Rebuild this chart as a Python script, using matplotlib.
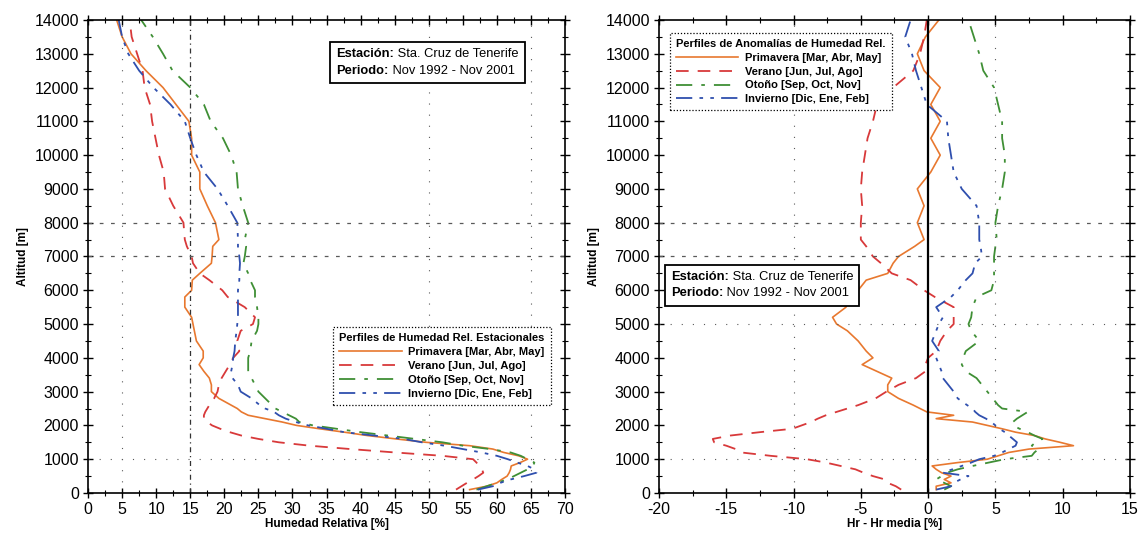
import matplotlib
matplotlib.use("Agg")
import matplotlib.pyplot as plt
from matplotlib.offsetbox import TextArea, HPacker, VPacker, AnchoredOffsetbox

plt.rcParams['font.family'] = ['Liberation Sans', 'DejaVu Sans']
plt.rcParams['axes.unicode_minus'] = False

# Altitude levels (m) shared by all profiles
altitude = [100, 200, 300, 400, 500, 600, 700, 800, 900, 1000, 1100, 1200, 1300, 1400,
            1500, 1600, 1700, 1800, 1900, 2000, 2100, 2200, 2300, 2400, 2500, 2600, 2800,
            3000, 3200, 3400, 3600, 3800, 4000, 4200, 4500, 4800, 5000, 5200, 5500, 5800,
            6000, 6300, 6500, 6800, 7000, 7300, 7500, 8000, 8500, 9000, 9500, 10000, 10500,
            11000, 11500, 12000, 12500, 13000, 13500, 14000]

# Seasonal relative humidity profiles (%)
hr_primavera = [56.0, 58.5, 60.0, 60.7, 61.5, 61.8, 62.0, 62.1, 63.4, 64.5, 63.2, 61.0, 59.4, 56.0,
                49.6, 45.2, 41.0, 37.6, 34.0, 30.6, 28.5, 26.0, 23.5, 22.5, 21.9, 21.0, 19.2,
                18.1, 18.1, 17.8, 17.0, 16.3, 16.9, 16.9, 15.9, 15.6, 15.4, 15.2, 14.2, 14.2,
                15.2, 15.3, 16.4, 18.1, 18.2, 18.3, 19.2, 18.7, 17.5, 16.4, 16.4, 15.2, 15.2,
                14.8, 12.9, 11.0, 8.5, 6.3, 5.0, 4.2]
hr_verano = [54.0, 54.8, 55.6, 56.5, 57.3, 58.0, 57.8, 57.4, 57.0, 56.5, 52.0, 45.0, 38.5, 32.5,
             28.0, 25.0, 22.5, 20.8, 19.4, 18.2, 17.5, 17.0, 17.0, 17.2, 17.5, 17.8, 18.5,
             19.0, 19.2, 19.6, 20.2, 20.8, 21.3, 22.2, 21.9, 22.4, 24.2, 24.5, 23.0, 20.5,
             19.7, 17.8, 16.4, 15.4, 15.2, 14.5, 14.2, 14.0, 12.5, 11.3, 11.1, 10.4, 9.9,
             9.4, 9.1, 8.3, 8.0, 7.2, 6.4, 6.1]
hr_otono = [57.0, 58.5, 60.0, 61.5, 62.5, 63.5, 64.5, 65.3, 65.5, 64.5, 63.5, 62.0, 59.0, 55.0,
            52.0, 48.0, 44.0, 40.0, 36.5, 33.0, 31.0, 30.5, 29.5, 28.5, 27.5, 27.0, 26.0,
            25.0, 24.5, 24.0, 23.5, 23.5, 23.5, 23.8, 24.0, 24.8, 25.0, 25.0, 24.8, 24.5,
            24.5, 23.8, 23.5, 22.8, 23.0, 23.2, 23.0, 23.5, 22.7, 22.0, 21.8, 21.0, 19.8,
            18.0, 17.0, 15.0, 12.4, 11.0, 9.5, 7.8]
hr_invierno = [57.2, 59.4, 60.5, 62.0, 64.0, 65.8, 65.5, 64.5, 63.0, 61.6, 60.0, 57.7, 55.0, 52.3,
               49.0, 46.3, 42.0, 37.6, 35.0, 32.3, 30.5, 29.0, 28.0, 27.3, 26.0, 25.2, 24.0,
               22.4, 22.0, 21.2, 21.0, 21.2, 21.3, 21.5, 21.6, 21.8, 21.9, 22.0, 22.0, 22.0,
               22.0, 22.2, 22.2, 22.3, 22.2, 22.0, 22.0, 21.9, 20.5, 19.0, 17.0, 15.9, 15.0,
               14.2, 12.1, 9.6, 7.5, 5.9, 5.0, 4.5]

# Seasonal anomalies with respect to the mean profile (%)
an_primavera = [0.6, 0.6, 1.7, 1.2, 1.7, 1.0, 0.6, 0.3, 2.2, 4.4, 5.2, 6.0, 7.5, 10.8,
                9.8, 8.7, 7.9, 6.5, 5.5, 4.4, 3.3, 0.6, 1.9, -0.1, -0.6, -1.1, -2.2,
                -3.0, -3.0, -2.7, -3.8, -4.9, -4.1, -4.6, -5.2, -6.0, -6.8, -7.1, -6.1, -6.0,
                -5.2, -4.6, -3.0, -2.6, -2.2, -1.0, -0.3, -0.8, -0.3, -0.8, 0.2, 0.9, 0.2,
                0.9, 0.2, 0.9, -0.3, -0.8, -0.2, 0.8]
an_verano = [-2.0, -2.4, -3.0, -3.2, -4.1, -4.8, -5.4, -6.5, -7.6, -9.0, -11.7, -13.9, -14.3, -15.0,
             -15.9, -16.0, -14.7, -12.5, -10.1, -9.4, -8.7, -8.2, -7.6, -6.8, -6.0, -5.2, -3.9,
             -3.1, -2.2, -0.9, -0.2, -0.2, 0.0, 0.6, 0.9, 1.4, 1.9, 1.9, 1.9, 0.5,
             -0.3, -1.3, -2.7, -3.5, -4.1, -4.6, -5.0, -5.0, -4.9, -5.0, -4.9, -4.7, -4.5,
             -4.1, -3.8, -2.6, -1.1, -0.6, -0.3, -0.1]
an_otono = [1.2, 1.7, 1.2, 0.6, 1.0, 1.4, 2.2, 3.3, 4.5, 5.7, 7.7, 7.9, 8.2, 7.7,
            8.0, 8.5, 7.9, 7.4, 6.8, 6.3, 6.3, 6.6, 7.0, 7.4, 5.5, 5.2, 4.8,
            4.4, 4.0, 3.6, 2.8, 2.5, 2.6, 2.8, 3.8, 3.2, 3.0, 3.2, 3.3, 3.6,
            4.7, 4.9, 4.9, 4.9, 4.9, 5.0, 5.1, 5.0, 5.2, 5.5, 5.7, 5.7, 5.5,
            5.5, 5.2, 4.9, 4.1, 3.8, 3.4, 3.0]
an_invierno = [0.6, 1.7, 1.9, 2.4, 3.0, 1.1, 1.8, 2.5, 3.2, 3.8, 4.9, 5.5, 6.0, 6.5,
               6.6, 6.3, 6.0, 5.7, 5.3, 5.0, 4.7, 4.3, 3.8, 3.5, 3.3, 2.9, 2.2,
               1.9, 1.5, 1.1, 1.0, 0.8, 0.6, 0.8, 0.3, 0.6, 0.8, 1.1, 0.6, 1.7,
               2.2, 2.8, 3.3, 3.5, 4.0, 3.9, 3.8, 3.8, 3.6, 2.5, 1.9, 1.7, 1.5,
               1.4, -0.1, -0.5, -0.9, -1.2, -1.7, -1.3]

season_labels = ["Primavera [Mar, Abr, May]", "Verano [Jun, Jul, Ago]",
                 "Otoño [Sep, Oct, Nov]", "Invierno [Dic, Ene, Feb]"]
station = "Sta. Cruz de Tenerife"
period = "Nov 1992 - Nov 2001"

styles = [dict(color="#e8782f", ls="-", lw=1.2),
          dict(color="#d8393a", ls=(0, (7, 5)), lw=1.3),
          dict(color="#3f8f35", ls=(0, (9, 5, 2, 5)), lw=1.3),
          dict(color="#2f4fae", ls=(0, (9, 4, 2, 4, 2, 4)), lw=1.3)]

fig = plt.figure(figsize=(11.48, 5.46), dpi=100)
ax1 = fig.add_axes([0.0767, 0.0971, 0.4155, 0.8663])
ax2 = fig.add_axes([0.574, 0.0971, 0.4103, 0.8663])

sparse = (0, (1, 9))
dashed_grid = (0, (3, 6))


def station_box(ax, loc, anchor):
    bold = dict(size=9.3, weight="bold", color="black")
    reg = dict(size=9.3, color="black")
    row1 = HPacker(children=[TextArea("Estación:", textprops=bold),
                             TextArea(" " + station, textprops=reg)], pad=0, sep=0)
    row2 = HPacker(children=[TextArea("Periodo:", textprops=bold),
                             TextArea(" " + period, textprops=reg)], pad=0, sep=0)
    col = VPacker(children=[row1, row2], pad=0, sep=3, align="left")
    box = AnchoredOffsetbox(loc=loc, child=col, pad=0.45, borderpad=0,
                            bbox_to_anchor=anchor, bbox_transform=ax.transAxes,
                            frameon=True)
    box.patch.set_edgecolor("black")
    box.patch.set_linewidth(1.3)
    box.patch.set_boxstyle("square", pad=0)
    ax.add_artist(box)


def style_axes(ax):
    ax.set_ylim(0, 14000)
    ax.set_yticks(range(0, 14001, 1000))
    ax.set_yticks(range(0, 14001, 500), minor=True)
    ax.tick_params(which="major", direction="inout", length=7, width=1,
                   top=True, right=True, labelsize=11.5, pad=3)
    ax.tick_params(which="minor", direction="inout", length=4, width=0.8,
                   top=True, right=True)
    for s in ax.spines.values():
        s.set_linewidth(1.2)
    ax.set_ylabel("Altitud [m]", fontsize=8.5, fontweight="bold", labelpad=4)


def season_legend(ax, loc, anchor, title):
    leg = ax.legend(loc=loc, bbox_to_anchor=anchor, title=title,
                    title_fontproperties=dict(size=8, weight="bold"),
                    prop=dict(size=8, weight="bold"), handlelength=5.6,
                    handletextpad=0.6, labelspacing=0.35, borderpad=0.55,
                    fancybox=False, framealpha=1, edgecolor="black")
    leg.get_frame().set_linestyle((0, (1, 1.5)))
    leg.get_frame().set_linewidth(0.9)
    leg._legend_box.align = "left"
    return leg


# ---- Left panel: seasonal humidity profiles ----
for vals, st, lab in zip([hr_primavera, hr_verano, hr_otono, hr_invierno], styles, season_labels):
    ax1.plot(vals, altitude, label=lab, **st)

ax1.axvline(15, color="0.2", lw=0.9, ls=(0, (4, 3, 1, 3)))
for xv in (5, 50, 65):
    ax1.axvline(xv, color="0.35", lw=0.8, ls=sparse)
for yv in (7000, 8000):
    ax1.axhline(yv, color="0.35", lw=0.9, ls=dashed_grid)
ax1.axhline(1000, color="0.35", lw=0.8, ls=sparse)

ax1.set_xlim(0, 70)
ax1.set_xticks(range(0, 71, 5))
ax1.set_xticks([x + 2.5 for x in range(0, 70, 5)], minor=True)
style_axes(ax1)
ax1.set_xlabel("Humedad Relativa [%]", fontsize=8.5, fontweight="bold", labelpad=1)

season_legend(ax1, "upper right", (0.982, 0.362), "Perfiles de Humedad Rel. Estacionales")
station_box(ax1, "upper left", (0.507, 0.953))

# ---- Right panel: anomalies ----
for vals, st, lab in zip([an_primavera, an_verano, an_otono, an_invierno], styles, season_labels):
    ax2.plot(vals, altitude, label=lab, **st)

ax2.axvline(0, color="black", lw=1.6)
for xv in (-10, 5):
    ax2.axvline(xv, color="0.35", lw=0.8, ls=sparse)
for yv in (7000, 8000):
    ax2.axhline(yv, color="0.35", lw=0.9, ls=dashed_grid)
for yv in (1000, 5000):
    ax2.axhline(yv, color="0.35", lw=0.8, ls=sparse)

ax2.set_xlim(-20, 15)
ax2.set_xticks(range(-20, 16, 5))
ax2.set_xticks([x + 2.5 for x in range(-20, 15, 5)], minor=True)
style_axes(ax2)
ax2.set_xlabel("Hr - Hr media [%]", fontsize=8.5, fontweight="bold", labelpad=1)

season_legend(ax2, "upper left", (0.012, 0.985), "Perfiles de Anomalías de Humedad Rel.")
station_box(ax2, "upper left", (0.012, 0.482))

fig.savefig("out.png", dpi=100)
